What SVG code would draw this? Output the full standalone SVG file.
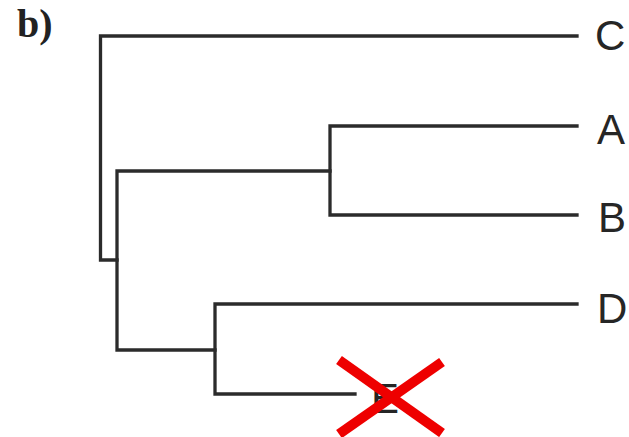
<svg xmlns="http://www.w3.org/2000/svg" width="629" height="437" viewBox="0 0 629 437">
<style>
.br{fill:none;stroke:#2b2b2b;stroke-width:3.3;stroke-linecap:square;stroke-linejoin:miter}
.lb{font-family:"Liberation Sans",Arial,sans-serif;font-size:42px;fill:#262626}
.x{stroke:#ee0000;stroke-width:10;stroke-linecap:butt}
</style>
<rect width="629" height="437" fill="#ffffff"/>
<text x="17" y="37" font-family="Liberation Serif,'Times New Roman',serif" font-weight="bold" font-size="40" fill="#222">b)</text>
<g id="connectors">
<path class="br" d="M577,36 H100.5 V260 H117"/>
<path class="br" d="M330,171 H117 V350 H215"/>
<path class="br" d="M577,126 H330 V215 H577"/>
<path class="br" d="M577,304 H215 V394 H355"/>
</g>
<g id="C"><text class="lb" x="595" y="50">C</text></g>
<g id="A"><text class="lb" x="597" y="144">A</text></g>
<g id="B"><text class="lb" x="598" y="232">B</text></g>
<g id="D"><text class="lb" x="597" y="323">D</text></g>
<g id="E"><text class="lb" x="371" y="413">E</text></g>
<g id="cross">
<line class="x" x1="339" y1="360" x2="442" y2="433"/>
<line class="x" x1="442" y1="362" x2="339" y2="434"/>
</g>
</svg>
